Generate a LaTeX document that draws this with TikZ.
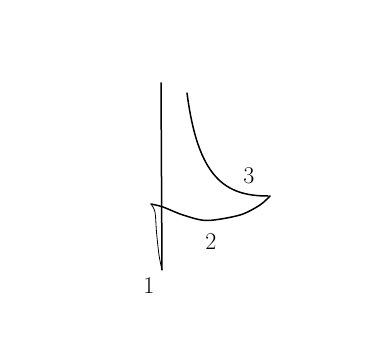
\documentclass[tikz,border=0pt]{standalone}
\usetikzlibrary{positioning}
\tikzset{
  sketch/.style={line width=1.5pt, line cap=round, line join=round},
  thinsketch/.style={line width=0.8pt, line cap=round, line join=round},
  curvelabel/.style={font=\fontsize{24}{26}\selectfont, inner sep=0pt},
}
\begin{document}
\begin{tikzpicture}[x=1pt, y=-1pt]
  % Page
  \fill[white] (0,0) rectangle (365,347);
  \useasboundingbox (0,0) rectangle (365,347);

  % Curve 1: near-vertical branch with a thin return at the bottom
  \draw[sketch] (161,83) -- (162,270);
  \draw[thinsketch] plot[smooth] coordinates
    {(162,270) (159,255) (156.5,232) (155,212) (151,204)};

  % Curve 2: low bowl to the right
  \draw[sketch] plot[smooth] coordinates
    {(151,204) (163,207) (183,215) (207,220.5) (240,215) (260,205) (270,196)};

  % Curve 3: falling branch
  \draw[sketch] (187,93) .. controls (198,178) and (225,196) .. (268,196);

  % Labels
  \node[curvelabel] (lab1) at (149,286) {1};
  \node[curvelabel] (lab2) at (211,242) {2};
  \node[curvelabel] (lab3) at (249,176) {3};
\end{tikzpicture}
\end{document}
